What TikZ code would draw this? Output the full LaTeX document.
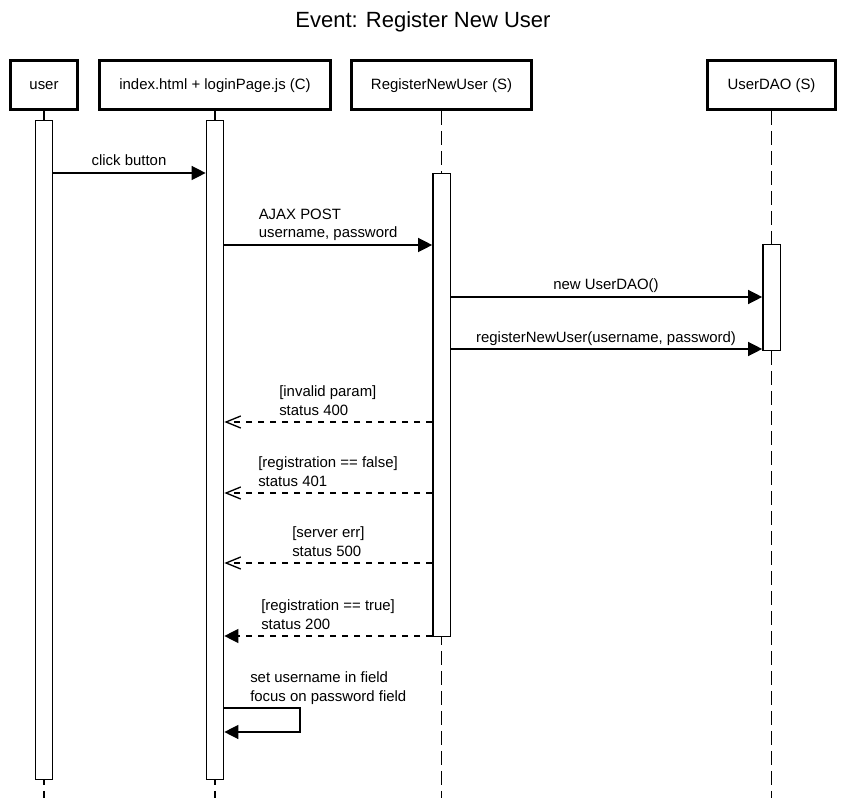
\documentclass[tikz,border=0pt]{standalone}
\usepackage{fontspec}
\setmainfont{Liberation Sans}
\usetikzlibrary{arrows.meta}
\begin{document}
\begin{tikzpicture}[x=0.75pt,y=-0.75pt,
 every node/.style={font=\fontsize{11.2pt}{13.9pt}\selectfont},
 hdr/.style={draw, line width=2.2pt, minimum height=36.75pt, text height=0.72em, text depth=0pt, inner sep=0pt},
 bar/.style={draw, fill=white, line width=1pt, minimum width=13pt, anchor=north, inner sep=0pt},
 life/.style={line width=1pt, dash pattern=on 10.5pt off 4.5pt},
 msg/.style={line width=1pt, -{Triangle[length=10.5pt,width=10.5pt]}},
 ret/.style={line width=1pt, dash pattern=on 5pt off 4pt, -{Straight Barb[length=11pt,width=9pt]}},
 retf/.style={line width=1pt, dash pattern=on 5pt off 4pt, -{Triangle[length=10.5pt,width=10.5pt]}},
 lbl/.style={anchor=base west, inner sep=0pt, align=left},
 clbl/.style={anchor=base, inner sep=0pt}]
\useasboundingbox (0,0) rectangle (845,798);

% title
\node[anchor=base, inner sep=0pt, font=\fontsize{16.5pt}{20pt}\selectfont] (title) at (423,28) {Event: Register New User};

% headers
\node[hdr, minimum width=50.25pt] (user) at (44,85) {user};
\node[hdr, minimum width=173.25pt] (idx) at (215,85) {index.html + loginPage.js (C)};
\node[hdr, minimum width=135pt] (reg) at (441.5,85) {RegisterNewUser (S)};
\node[hdr, minimum width=96pt] (dao) at (771.5,85) {UserDAO (S)};

% lifeline ends
\coordinate (userend) at (44,798);
\coordinate (idxend) at (215,798);
\coordinate (regend) at (441.5,798);
\coordinate (daoend) at (771.5,798);
\draw[life] (user.south) -- (userend);
\draw[life] (idx.south) -- (idxend);
\draw[life] (reg.south) -- (regend);
\draw[life] (dao.south) -- (daoend);

% activation bars
\node[bar, minimum height=494.25pt] (userbar) at (44,120) {};
\node[bar, minimum height=494.25pt] (idxbar) at (215,120) {};
\node[bar, minimum height=347.25pt] (regbar) at (441.5,173) {};
\node[bar, minimum height=79.5pt] (daobar) at (771.5,244) {};

% messages
\draw[msg] (userbar.east |- 0,173) -- (idxbar.west |- 0,173);
\node[clbl] (m1) at (129,166) {click button};

\draw[msg] (idxbar.east |- 0,245) -- (regbar.west |- 0,245);
\node[lbl] (m2) at (258.5,238) {AJAX POST\\username, password};

\draw[msg] (regbar.east |- 0,297) -- (daobar.west |- 0,297);
\node[clbl] (m3) at (606,290) {new UserDAO()};

\draw[msg] (regbar.east |- 0,349) -- (daobar.west |- 0,349);
\node[clbl] (m4) at (606,342.5) {registerNewUser(username, password)};

\draw[ret] (regbar.west |- 0,422) -- (idxbar.east |- 0,422);
\node[lbl] (r1) at (279,415) {[invalid param]\\status 400};

\draw[ret] (regbar.west |- 0,493) -- (idxbar.east |- 0,493);
\node[lbl] (r2) at (258,486) {[registration == false]\\status 401};

\draw[ret] (regbar.west |- 0,563) -- (idxbar.east |- 0,563);
\node[lbl] (r3) at (292,556) {[server err]\\status 500};

\draw[retf] (regbar.west |- 0,636) -- (idxbar.east |- 0,636);
\node[lbl] (r4) at (261,629) {[registration == true]\\status 200};

% self message
\coordinate (s1) at (300,708);
\coordinate (s2) at (300,732);
\draw[msg] (idxbar.east |- 0,708) -- (s1) -- (s2) -- (idxbar.east |- 0,732);
\node[lbl] (sm) at (250,701) {set username in field\\focus on password field};
\end{tikzpicture}
\end{document}
